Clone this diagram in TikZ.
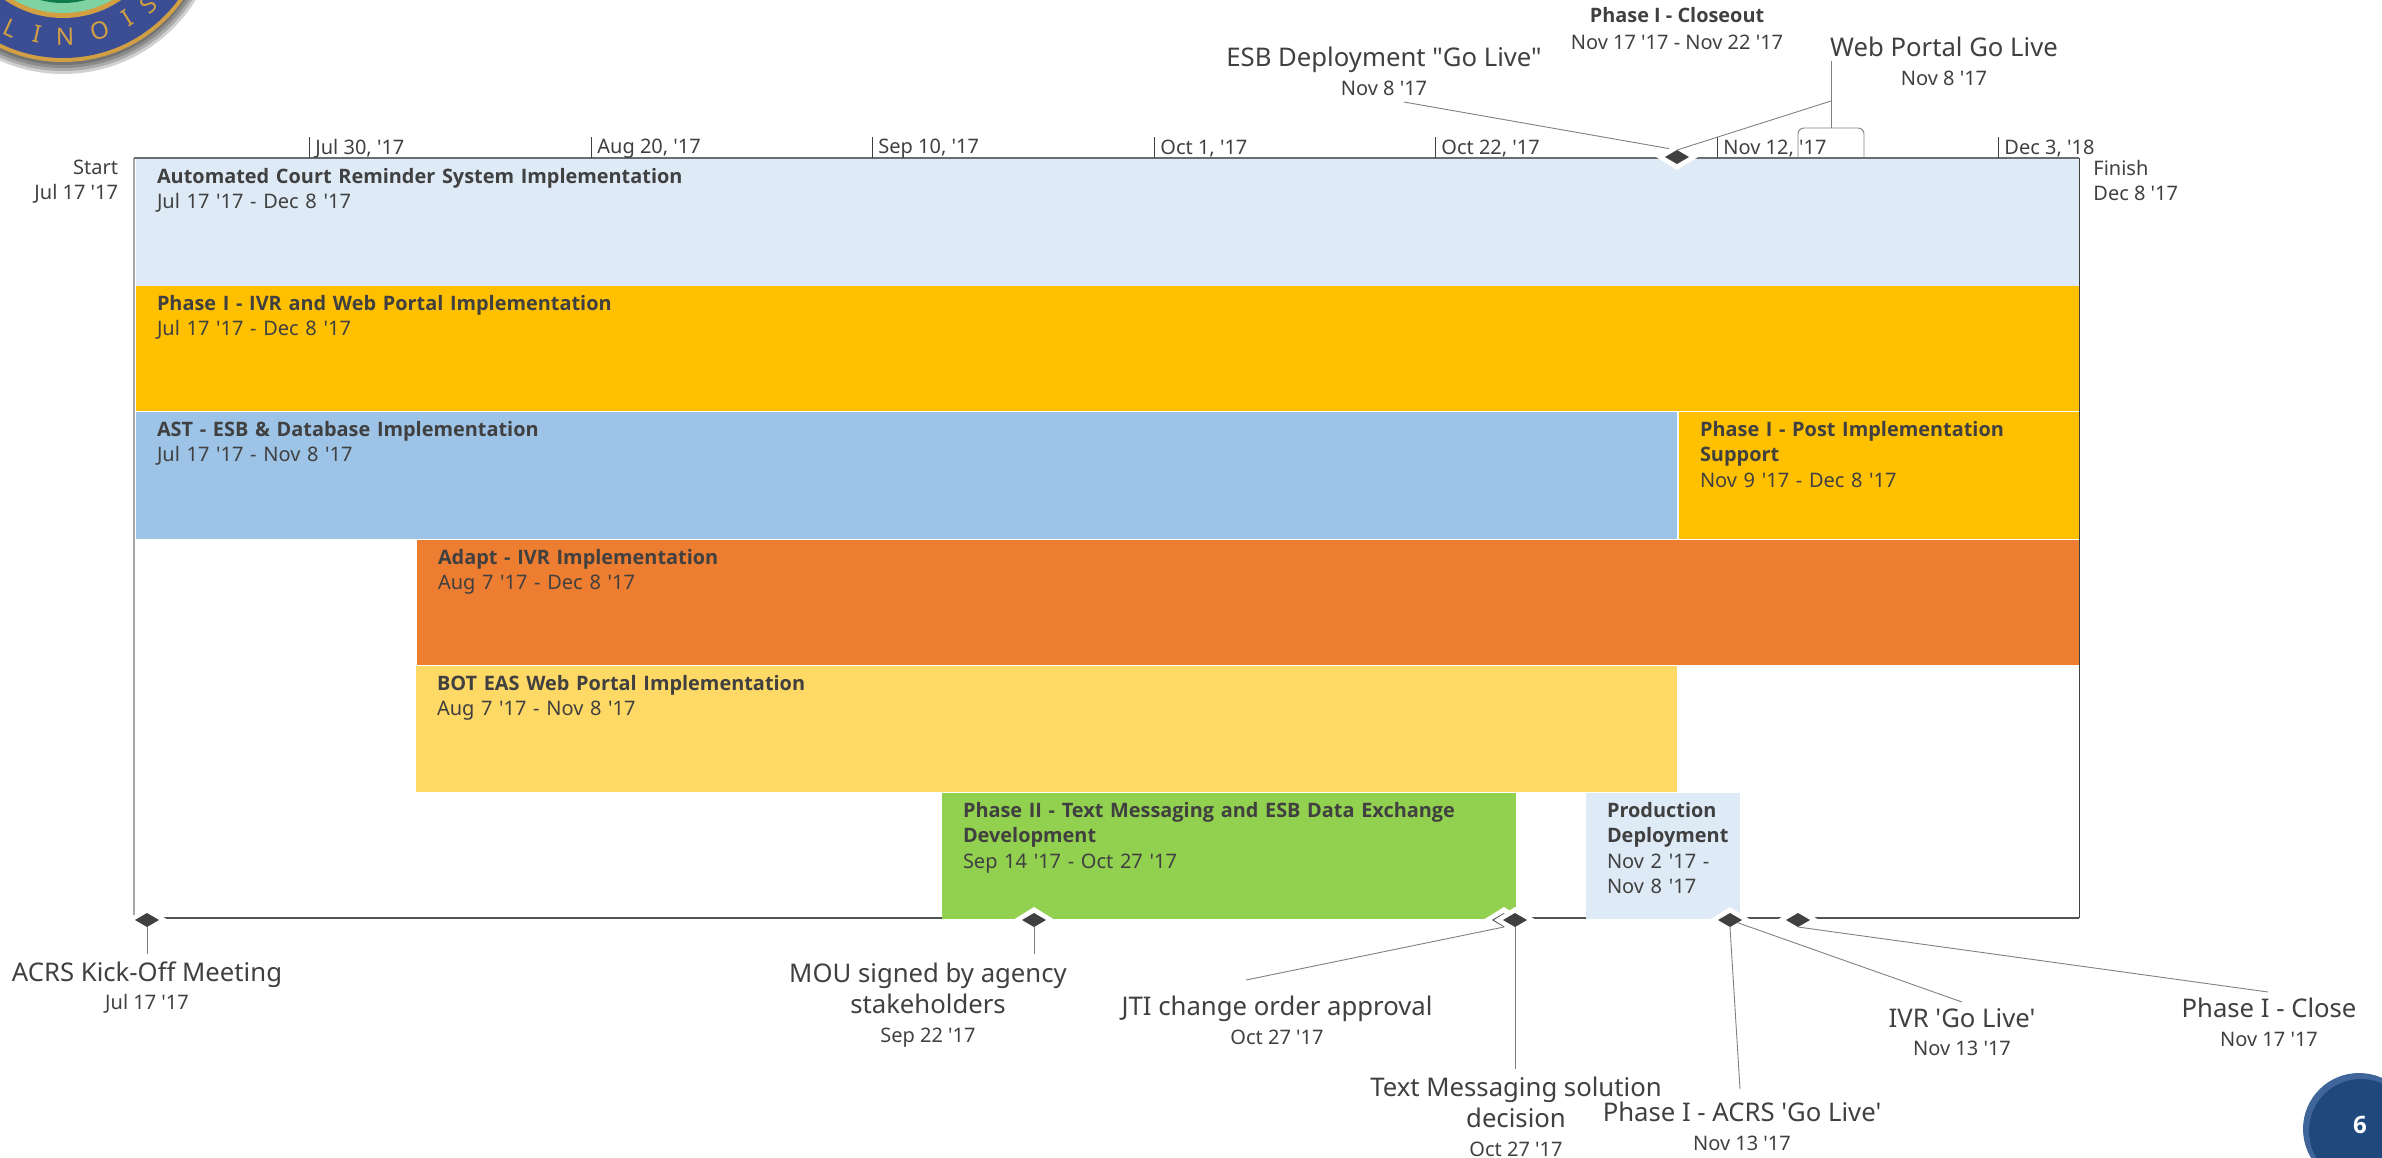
\documentclass[tikz,border=0pt]{standalone}
\usepackage{fontspec}
\newfontfamily\ganttfont{Noto Sans}
\newfontfamily\ganttbold{Open Sans}
\usetikzlibrary{shapes.geometric}
\definecolor{inktext}{HTML}{404040}
\definecolor{leadgray}{HTML}{808080}
\definecolor{marktone}{HTML}{404040}
\definecolor{palebar}{HTML}{DEEAF6}
\definecolor{amberbar}{HTML}{FFC000}
\definecolor{skybar}{HTML}{9DC3E6}
\definecolor{orangebar}{HTML}{ED7D31}
\definecolor{sandbar}{HTML}{FFD966}
\definecolor{limebar}{HTML}{92D050}
\definecolor{sealblue}{HTML}{3B4E94}
\definecolor{sealgold}{HTML}{D2A043}
\definecolor{sealpale}{HTML}{7FD3A2}
\definecolor{sealdeep}{HTML}{0F7A4C}
\definecolor{badgeblue}{HTML}{1F497D}
\definecolor{badgeedge}{HTML}{3F659A}
\newcommand*\pxsize{0.5pt}
\newcommand*\smallface{\fontsize{10}{12.75}\selectfont}
\newcommand*\bigface{\fontsize{12.85}{15.3}\selectfont}
\newcommand*\msdate[1]{\\[-1pt]{\smallface #1}}
\newcommand*\tasktitle[1]{{\ganttbold\bfseries\fontsize{9.95}{12.75}\selectfont #1}}
\tikzset{
    task/.style 2 args={
        anchor=north west,
        font=\ganttfont\smallface,
        text=inktext,
        inner xsep=10.5pt,
        inner ysep=0pt,
        outer sep=0pt,
        align=left,
        text width={#1*\pxsize-21pt},
        text height=12pt,
        text depth={#2*\pxsize-12pt}
    },
    mshalo/.style={
        diamond,
        fill=white,
        inner sep=0pt,
        outer sep=0pt,
        minimum width=21pt,
        minimum height=13pt
    },
    msmark/.style={
        diamond,
        fill=marktone,
        inner sep=0pt,
        outer sep=0pt,
        minimum width=12pt,
        minimum height=7pt
    },
    mslabel/.style={
        anchor=north,
        font=\ganttfont\bigface,
        text=inktext,
        align=center,
        inner sep=0pt
    },
    plainlabel/.style={
        font=\ganttfont\smallface,
        text=inktext,
        inner sep=0pt
    },
    leader/.style={draw=leadgray, line width=0.45pt}
}

\begin{document}
\begin{tikzpicture}[x=\pxsize,y=-\pxsize]
    \useasboundingbox (0,0) rectangle (2382,1157);

    % The seal in the top left corner, cut by the page.
    \begin{scope}
        \clip (0,0) rectangle (2382,1157);
        \foreach \glowsize in {156,153,150,147}
            \fill[black,opacity=0.18] (63,-82) circle[radius=\glowsize];
        \fill[sealgold] (63,-85) circle[radius=147];
        \fill[sealblue] (63,-85) circle[radius=143];
        \fill[sealgold] (63,-85) circle[radius=103];
        \fill[sealpale] (63,-85) circle[radius=98];
        \fill[sealdeep] (63,-85) circle[radius=88];
        \foreach \sealname/\sealx/\sealy/\sealangle/\sealletter in {
            sealb/11/28/-24.7/L,sealc/37/34/-12.3/I,seald/65/37/1/N,
            seale/100/31/17/O,sealf/127/18/32/I,sealg/148/5/43/S}
            \node[font=\ganttfont\fontsize{12}{12}\selectfont,text=sealgold,inner sep=0pt,rotate=\sealangle]
                (\sealname) at (\sealx,\sealy) {\sealletter};

        % The page number.
        \fill[badgeedge] (2359,1129) circle[radius=56];
        \fill[badgeblue] (2361,1131) circle[radius=52];
    \end{scope}
    \node[font=\ganttbold\bfseries\fontsize{12}{12}\selectfont,text=white,inner sep=0pt] (pagenum) at (2360,1125) {6};

    % Draw the frame.
    \draw[line width=1pt,draw=leadgray!70] (134,158) -- (134,919);
    \draw[line width=0.8pt,draw=marktone!90] (134,918) -- (2079,918);
    \draw[line width=0.5pt,draw=marktone] (2079,158) -- (2079,918);

    % Write the bars. task={WIDTH}{HEIGHT}, placed at their top left corner.
    \node[task={1943}{127},fill=palebar] (acrsbar) at (136,159) {\tasktitle{Automated Court Reminder System Implementation}\\Jul 17 '17 - Dec 8 '17};
    \node[task={1943}{125},fill=amberbar] (ivrwebbar) at (136,286) {\tasktitle{Phase I - IVR and Web Portal Implementation}\\Jul 17 '17 - Dec 8 '17};
    \node[task={1541}{127},fill=skybar] (astbar) at (136,412) {\tasktitle{AST - ESB \& Database Implementation}\\Jul 17 '17 - Nov 8 '17};
    \node[task={400}{127},fill=amberbar] (postbar) at (1679,412) {\tasktitle{Phase I - Post Implementation}\\\tasktitle{Support}\\Nov 9 '17 - Dec 8 '17};
    \node[task={1662}{125},fill=orangebar] (adaptbar) at (417,540) {\tasktitle{Adapt - IVR Implementation}\\Aug 7 '17 - Dec 8 '17};
    \node[task={1261}{126},fill=sandbar] (botbar) at (416,666) {\tasktitle{BOT EAS Web Portal Implementation}\\Aug 7 '17 - Nov 8 '17};
    \node[task={574}{126},fill=limebar] (textbar) at (942,793) {\tasktitle{Phase II - Text Messaging and ESB Data Exchange}\\\tasktitle{Development}\\Sep 14 '17 - Oct 27 '17};
    \node[task={154}{126},fill=palebar] (prodbar) at (1586,793) {\tasktitle{Production}\\\tasktitle{\mbox{Deployment}}\\Nov 2 '17 -\\Nov 8 '17};

    % The top line and the date marks above it.
    \draw[line width=1pt,draw=leadgray!85!black] (134,158) -- (2079,158);
    \foreach \tickname/\tickx/\ticktext in {
        tickjul/309/{Jul 30, '17},tickaug/591/{Aug 20, '17},ticksep/872/{Sep 10, '17},
        tickoct/1154/{Oct 1, '17},ticklate/1435/{Oct 22, '17},ticknov/1717/{Nov 12, '17},
        tickdec/1998/{Dec 3, '18}}
    {
        \draw[line width=0.5pt,draw=marktone] (\tickx,137) -- (\tickx,158);
        \node[plainlabel,anchor=west] (\tickname) at (\tickx+6,149) {\ticktext};
    }

    % Start and finish.
    \node[plainlabel,anchor=north east,align=right] (startlabel) at (118.5,159.5) {Start\\Jul 17 '17};
    \node[plainlabel,anchor=north west,align=left] (finishlabel) at (2093,159.5) {Finish\\Dec 8 '17};

    % The milestones, halo first and then the mark.
    \foreach \msname/\msx/\msy in {
        esbms/1677/157,kickoffms/147/920,mouoms/1034/920,jtims/1504/920,
        msgms/1515/920,acrsms/1730/920,closems/1798/920}
    {
        \node[mshalo] (\msname halo) at (\msx,\msy) {};
        \node[msmark] (\msname) at (\msx,\msy) {};
    }

    % Labels of the milestones.
    \node[plainlabel,align=center,anchor=north] (closeoutlabel) at (1677,7) {\tasktitle{Phase I - Closeout}\\[0.7pt]Nov 17 '17 - Nov 22 '17};
    \node[mslabel] (esblabel) at (1384,47) {ESB Deployment "Go Live"\msdate{Nov 8 '17}};
    \node[mslabel] (weblabel) at (1944,37) {Web Portal Go Live\msdate{Nov 8 '17}};
    \node[mslabel] (kickofflabel) at (147,961) {ACRS Kick-Off Meeting\msdate{Jul 17 '17}};
    \node[mslabel] (moulabel) at (928,963) {MOU signed by agency\\stakeholders\msdate{Sep 22 '17}};
    \node[mslabel] (jtilabel) at (1277,996) {JTI change order approval\msdate{Oct 27 '17}};
    \node[mslabel] (msglabel) at (1516,1077) {Text Messaging solution\\decision\msdate{Oct 27 '17}};
    \node[mslabel] (acrslabel) at (1742,1102) {Phase I - ACRS 'Go Live'\msdate{Nov 13 '17}};
    \node[mslabel] (ivrlabel) at (1962,1008) {IVR 'Go Live'\msdate{Nov 13 '17}};
    \node[mslabel] (closelabel) at (2269,998) {Phase I - Close\msdate{Nov 17 '17}};

    % Free ends of the leader lines.
    \coordinate (esbfoot) at (1404,102);
    \coordinate (webbend) at (1831,101);
    \coordinate (webfoot) at (1831,61);
    \coordinate (bracketleft) at (1798,158);
    \coordinate (bracketright) at (1864,158);
    \coordinate (brackettop) at (1831,128);
    \coordinate (kickofffoot) at (147,954);
    \coordinate (moufoot) at (1034,954);
    \coordinate (jtifoot) at (1246,980);
    \coordinate (msgfoot) at (1515,1069);
    \coordinate (acrsfoot) at (1740,1089);
    \coordinate (ivrfoot) at (1962,1002);
    \coordinate (closefoot) at (2268,992);

    % Leader lines.
    \draw[leader,shorten >=4pt] (esbfoot) -- (esbms.north);
    \draw[leader] (webbend) -- (esbms.north);
    \draw[leader] (webfoot) -- (brackettop);
    \draw[leader,rounded corners=3pt] (bracketleft) |- (brackettop) -| (bracketright);
    \draw[leader] (kickofffoot) -- (kickoffms.south);
    \draw[leader] (moufoot) -- (mouoms.south);
    \draw[leader] (jtifoot) -- (jtims.south);
    \draw[leader] (msgfoot) -- (msgms.south);
    \draw[leader] (acrsfoot) -- (acrsms.south);
    \draw[leader] (ivrfoot) -- (acrsms);
    \draw[leader] (closefoot) -- (closems.south);

\end{tikzpicture}
\end{document}
